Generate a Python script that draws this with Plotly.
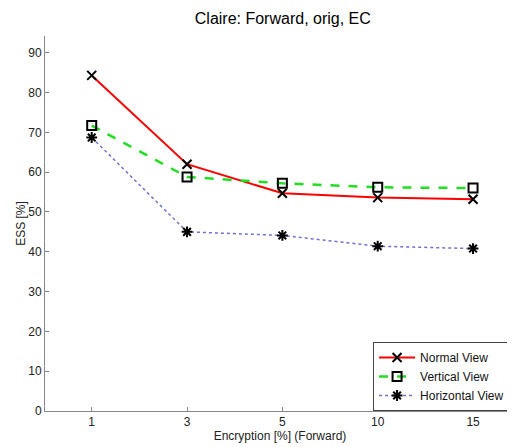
import plotly.graph_objects as go

categories = ["1", "3", "5", "10", "15"]
normal_view = [84.3, 62.0, 54.7, 53.6, 53.2]
vertical_view = [71.7, 58.8, 57.2, 56.2, 56.0]
horizontal_view = [68.7, 45.0, 44.1, 41.4, 40.8]
y_ticks = [0, 10, 20, 30, 40, 50, 60, 70, 80, 90]

FONT = "Liberation Sans, Arial"

fig = go.Figure()
fig.add_trace(go.Scatter(
    x=categories, y=normal_view, name="Normal View", mode="lines+markers",
    line=dict(color="#ff0000", width=2),
    marker=dict(symbol="x-thin-open", size=9, color="black", line=dict(color="black", width=2)),
))
fig.add_trace(go.Scatter(
    x=categories, y=vertical_view, name="Vertical View", mode="lines+markers",
    line=dict(color="#22dd22", width=2.5, dash="dash"),
    marker=dict(symbol="square-open", size=9, color="black", line=dict(color="black", width=2)),
))
fig.add_trace(go.Scatter(
    x=categories, y=horizontal_view, name="Horizontal View", mode="lines+markers",
    line=dict(color="#7070d0", width=1.5, dash="dot"),
    marker=dict(symbol="asterisk-open", size=9, color="black", line=dict(color="black", width=2)),
))

axis_common = dict(
    showgrid=False, zeroline=False, showline=True, linecolor="#888888", linewidth=1,
    ticks="inside", ticklen=4, tickcolor="#888888",
    tickfont=dict(family=FONT, size=12, color="#222222"),
    mirror=False,
)

# page body has an 8px margin; figure is sized/offset to compensate
fig.update_layout(
    width=507, height=439,
    margin=dict(l=37, r=0, t=28, b=36),
    paper_bgcolor="white", plot_bgcolor="white",
    title=dict(text="Claire: Forward, orig, EC", x=0.542, xanchor="center", y=0.977, yanchor="middle",
               font=dict(family=FONT, size=16, color="black")),
    xaxis=dict(type="category", range=[-0.49, 4.44],
               title=dict(text="Encryption [%] (Forward)", standoff=0,
                          font=dict(family=FONT, size=12, color="#222222")),
               **axis_common),
    yaxis=dict(range=[0, 94.2], tickvals=y_ticks,
               title=dict(text="ESS [%]", standoff=0,
                          font=dict(family=FONT, size=12, color="#222222")),
               **axis_common),
    legend=dict(x=0.698, y=0.184, xanchor="left", yanchor="top",
                bgcolor="white", bordercolor="#444444", borderwidth=1,
                font=dict(family=FONT, size=12, color="#111111"),
                tracegroupgap=0, itemwidth=36),
    showlegend=True,
)

fig.write_html("out.html")
